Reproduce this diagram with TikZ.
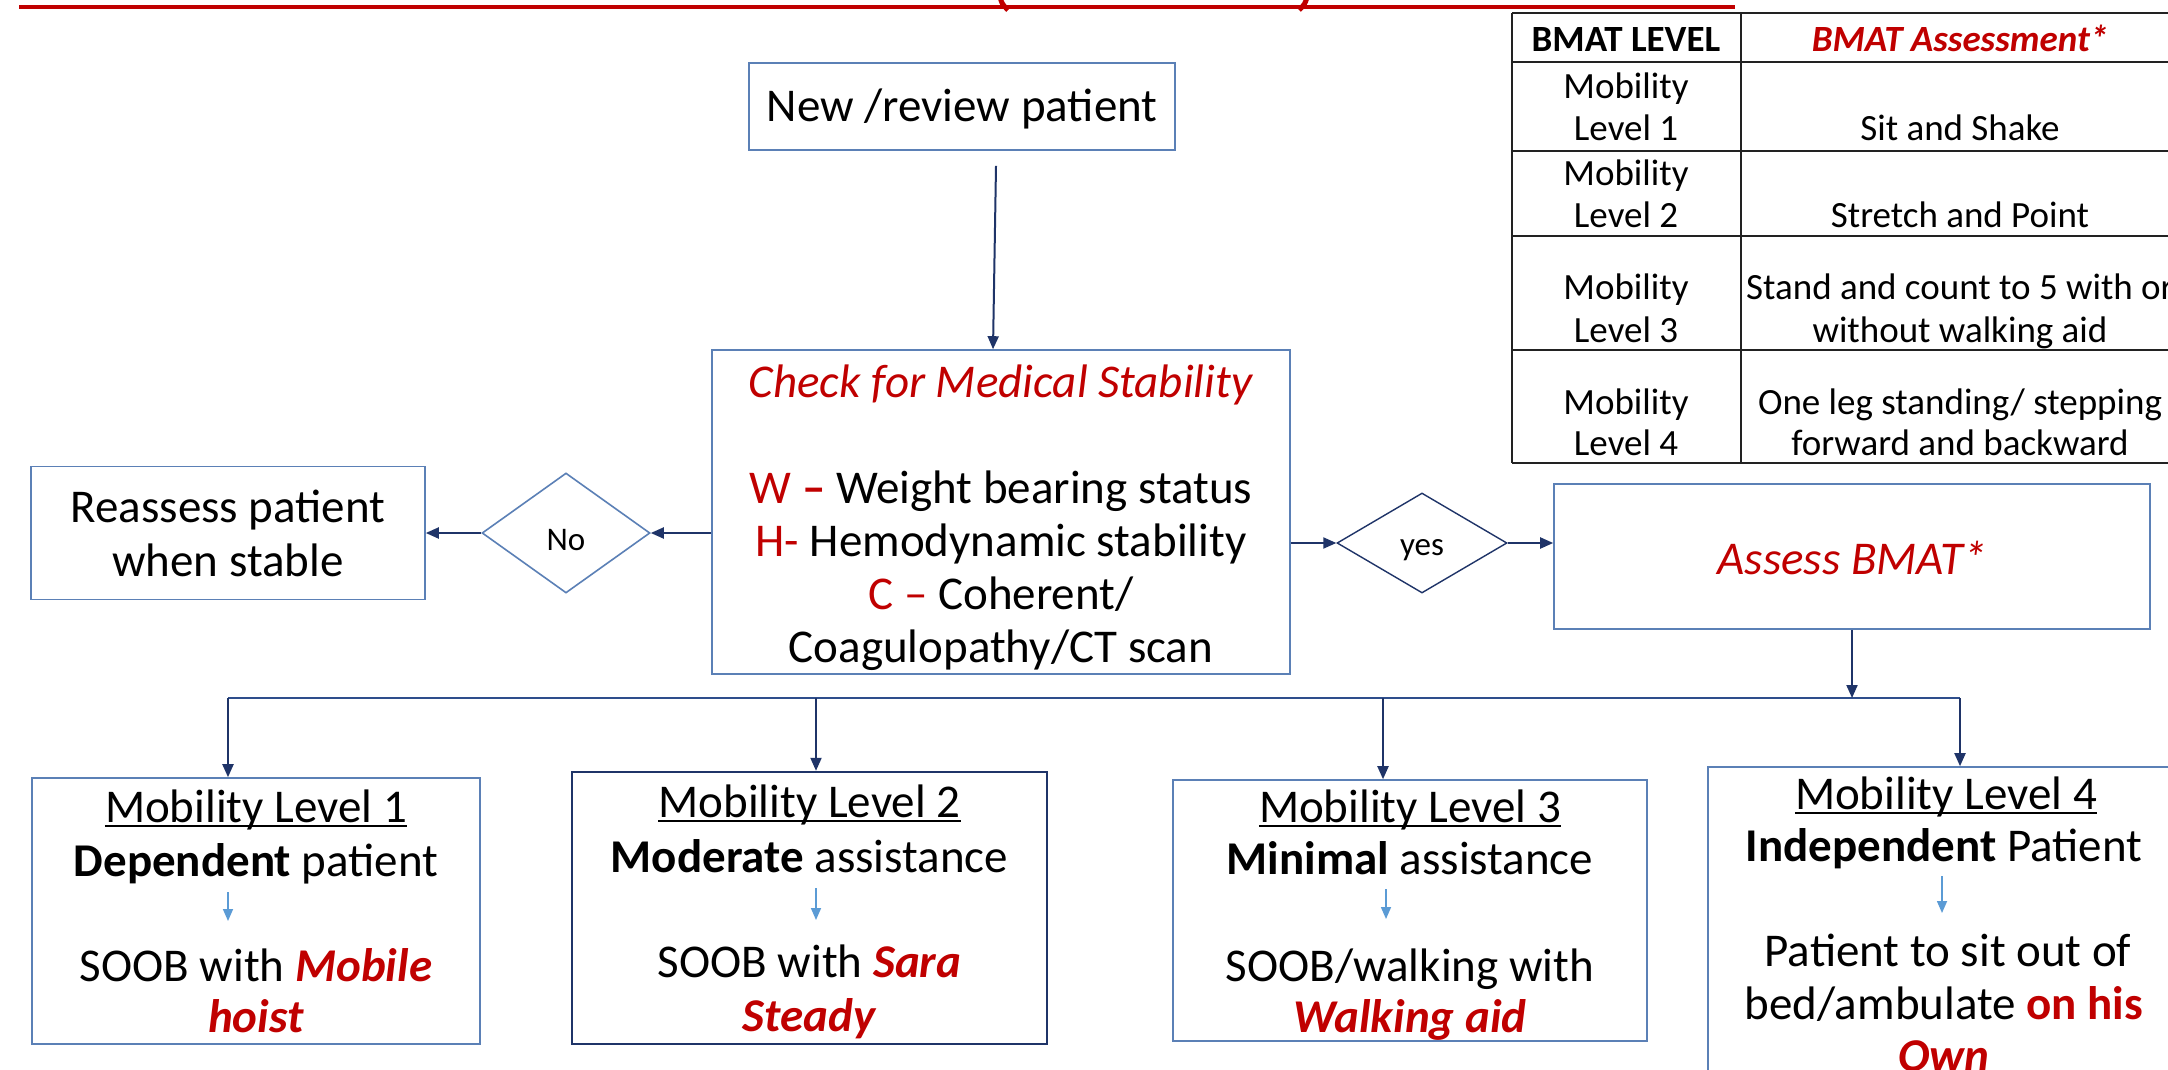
\documentclass[tikz,border=0pt]{standalone}
\usepackage{fontspec}
\setmainfont{Carlito}
\usetikzlibrary{shapes.geometric,arrows.meta,calc}
\definecolor{boxblue}{HTML}{5B80B6}
\definecolor{navy}{HTML}{1F3468}
\definecolor{busblue}{HTML}{2E4E8C}
\definecolor{dred}{HTML}{C00000}
\definecolor{lblue}{HTML}{5B9BD5}
\definecolor{tblk}{HTML}{222222}
\newcommand{\bigfont}{\fontsize{47}{53}\selectfont}
\newcommand{\tblfont}{\fontsize{37}{42}\selectfont}
\newcommand{\smfont}{\fontsize{33}{38}\selectfont}
\newcommand{\rd}[1]{\textcolor{dred}{#1}}
\newcommand{\rbi}[1]{\textcolor{dred}{\textbf{\textit{#1}}}}
\begin{document}
\begin{tikzpicture}[x=1pt,y=-1pt,
  box/.style={draw=boxblue, line width=1.6pt, rectangle, inner sep=0pt},
  dia/.style={draw=boxblue, line width=1.6pt, diamond, inner sep=0pt},
  arr/.style={draw=navy, line width=2pt, -{Triangle[length=13pt,width=11pt]}},
  smallarr/.style={draw=lblue, line width=1.6pt, -{Triangle[length=12pt,width=10pt]}},
  txt/.style={anchor=base, inner sep=0pt, font=\bigfont},
  tbl/.style={anchor=base, inner sep=0pt, font=\tblfont},
  tline/.style={draw=tblk, line width=2pt},
  uline/.style={draw=black, line width=2.5pt},
  bus/.style={draw=busblue, line width=2pt}
]
\path[use as bounding box] (0,0) rectangle (2168,1070);
\clip (0,0) rectangle (2168,1070);
\fill[white] (0,0) rectangle (2168,1070);

% top red rule with the tails of a cut-off title
\draw[dred, line width=4.5pt] (19,7) -- (1735,7);
\draw[dred, line width=5pt] (1000,-3) .. controls (1002,4) .. (1008,10);
\draw[dred, line width=5pt] (1307,-3) .. controls (1305,4) .. (1299,10);

% BMAT table
\foreach \yy in {13,62,151,236,350,463} \draw[tline] (1512,\yy) -- (2200,\yy);
\draw[tline] (1512,13) -- (1512,463);
\draw[tline] (1741,13) -- (1741,463);
\node[tbl] (h1) at (1626,52) {\textbf{BMAT LEVEL}};
\node[tbl] (h2) at (1960,52) {\rbi{BMAT Assessment*}};
\node[tbl] (r1a) at (1626,99) {Mobility};
\node[tbl] (r1b) at (1626,140) {Level 1};
\node[tbl] (r1c) at (1960,140) {Sit and Shake};
\node[tbl] (r2a) at (1626,185) {Mobility};
\node[tbl] (r2b) at (1626,227) {Level 2};
\node[tbl] (r2c) at (1960,227) {Stretch and Point};
\node[tbl] (r3a) at (1626,299) {Mobility};
\node[tbl] (r3b) at (1626,342) {Level 3};
\node[tbl] (r3c) at (1960,299) {Stand and count to 5 with or};
\node[tbl] (r3d) at (1960,342) {without walking aid};
\node[tbl] (r4a) at (1626,414) {Mobility};
\node[tbl] (r4b) at (1626,455) {Level 4};
\node[tbl] (r4c) at (1960,414) {One leg standing/ stepping};
\node[tbl] (r4d) at (1960,455) {forward and backward};

% upper flow
\node[box, minimum width=426pt, minimum height=87pt, font=\bigfont, text height=31pt, text depth=0pt] (newp) at (962,106.5) {New /review patient};
\node[box, minimum width=578pt, minimum height=324pt] (check) at (1001,512) {};
\node[align=center, font=\bigfont, inner sep=0pt] (checkt) at (1001,518)
  {\rd{\textit{Check for Medical Stability}}\\[53pt]
   \rd{W \textbf{--}} Weight bearing status\\
   \rd{H-} Hemodynamic stability\\
   \rd{C --} Coherent/\\
   Coagulopathy/CT scan};
\node[box, minimum width=394pt, minimum height=133pt, align=center, font=\fontsize{47}{54}\selectfont] (reass) at (228,533) {Reassess patient\\when stable};
\node[dia, minimum width=168pt, minimum height=120pt, font=\smfont, text height=34pt, text depth=0pt] (nod) at (566,533) {No};
\node[dia, draw=navy, line width=1.4pt, minimum width=170pt, minimum height=100pt, font=\smfont, text height=24pt, text depth=0pt] (yesd) at (1422,543) {yes};
\node[box, minimum width=596pt, minimum height=145pt, font=\bigfont, text height=35pt, text depth=0pt] (assess) at (1852,556.5) {\rd{\textit{Assess BMAT*}}};

\draw[arr] ([xshift=34pt,yshift=-15pt]newp.south) -- ([xshift=-8pt]check.north);
\draw[arr] (nod.east -| check.west) -- (nod.east);
\draw[arr] (nod.west) -- (reass.east);
\draw[arr] (yesd.west -| check.east) -- (yesd.west);
\draw[arr] (yesd.east) -- (yesd.east -| assess.west);

% bottom boxes
\node[box, minimum width=448pt, minimum height=266pt] (lvl1) at (256,911) {};
\node[box, draw=navy, line width=2.4pt, minimum width=475pt, minimum height=272pt] (lvl2) at (809.5,908) {};
\node[box, minimum width=474pt, minimum height=261pt] (lvl3) at (1410,910.5) {};
\node[box, minimum width=472pt, minimum height=333pt] (lvl4) at (1944,933.5) {};

% bus
\coordinate (b1) at (228,698);
\coordinate (b2) at (816,698);
\coordinate (b3) at (1383,698);
\coordinate (b4) at (1960,698);
\coordinate (bA) at (1852,698);
\draw[bus] (b1) -- (b4);
\draw[arr] (assess.south) -- (bA);
\draw[arr] (b1) -- (b1 |- lvl1.north);
\draw[arr] (b2) -- (b2 |- lvl2.north);
\draw[arr] (b3) -- (b3 |- lvl3.north);
\draw[arr] (b4) -- (b4 |- lvl4.north);

% level 1
\node[txt] (l1a) at (256,822) {Mobility Level 1};
\draw[uline] ([yshift=-4pt]l1a.base west) -- ([yshift=-4pt]l1a.base east);
\node[txt] (l1b) at (256,876) {\textbf{Dependent} patient};
\coordinate (s1a) at (228,892); \coordinate (s1b) at (228,921);
\draw[smallarr] (s1a) -- (s1b);
\node[txt] (l1c) at (256,981) {SOOB with \rbi{Mobile}};
\node[txt] (l1d) at (256,1032) {\rbi{hoist}};

% level 2
\node[txt] (l2a) at (809.5,817) {Mobility Level 2};
\draw[uline] ([yshift=-4pt]l2a.base west) -- ([yshift=-4pt]l2a.base east);
\node[txt] (l2b) at (809.5,872) {\textbf{Moderate} assistance};
\coordinate (s2a) at (816,888); \coordinate (s2b) at (816,920);
\draw[smallarr] (s2a) -- (s2b);
\node[txt] (l2c) at (809.5,977) {SOOB with \rbi{Sara}};
\node[txt] (l2d) at (809.5,1031) {\rbi{Steady}};

% level 3
\node[txt] (l3a) at (1410,822) {Mobility Level 3};
\draw[uline] ([yshift=-4pt]l3a.base west) -- ([yshift=-4pt]l3a.base east);
\node[txt] (l3b) at (1410,874) {\textbf{Minimal} assistance};
\coordinate (s3a) at (1386,889); \coordinate (s3b) at (1386,919);
\draw[smallarr] (s3a) -- (s3b);
\node[txt] (l3c) at (1410,981) {SOOB/walking with};
\node[txt] (l3d) at (1410,1032) {\rbi{Walking aid}};

% level 4
\node[txt] (l4a) at (1946,809) {Mobility Level 4};
\draw[uline] ([yshift=-4pt]l4a.base west) -- ([yshift=-4pt]l4a.base east);
\node[txt] (l4b) at (1944,861) {\textbf{Independent} Patient};
\coordinate (s4a) at (1942,876); \coordinate (s4b) at (1942,913);
\draw[smallarr] (s4a) -- (s4b);
\node[txt] (l4c) at (1948,966) {Patient to sit out of};
\node[txt] (l4d) at (1944,1019) {bed/ambulate \rd{\textbf{on his}}};
\node[txt] (l4e) at (1944,1071) {\rbi{Own}};
\end{tikzpicture}
\end{document}
